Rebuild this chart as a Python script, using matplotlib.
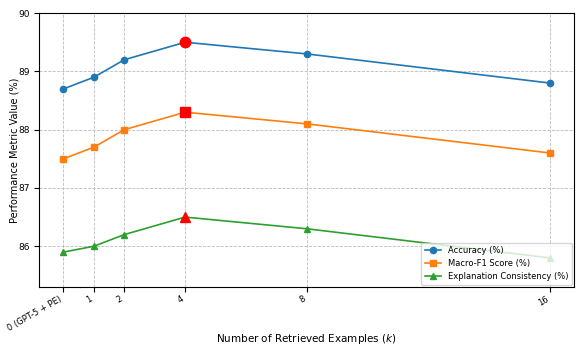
import matplotlib.pyplot as plt

k = [0, 1, 2, 4, 8, 16]
k_labels = ["0 (GPT-5 + PE)", "1", "2", "4", "8", "16"]
accuracy = [88.7, 88.9, 89.2, 89.5, 89.3, 88.8]
macro_f1 = [87.5, 87.7, 88.0, 88.3, 88.1, 87.6]
consistency = [85.9, 86.0, 86.2, 86.5, 86.3, 85.8]
best_idx = 3

fig, ax = plt.subplots(figsize=(5.76, 3.45), dpi=100)
fig.subplots_adjust(left=0.068, right=0.997, top=0.962, bottom=0.168)

series = [
    (accuracy, "o", "Accuracy (%)", "#1f77b4"),
    (macro_f1, "s", "Macro-F1 Score (%)", "#ff7f0e"),
    (consistency, "^", "Explanation Consistency (%)", "#2ca02c"),
]
for vals, m, lab, c in series:
    ax.plot(k, vals, marker=m, color=c, label=lab, linewidth=1.2, markersize=4.5)
    # mark the best point
    ax.plot(k[best_idx], vals[best_idx], marker=m, color="red", markersize=7.5, linestyle="none")

ax.set_xticks(k)
ax.set_xticklabels(k_labels, rotation=30, ha="right", fontsize=6)
ax.tick_params(axis="x", pad=2)
ax.tick_params(axis="y", labelsize=6.5)
ax.set_ylim(85.3, 90)
ax.set_yticks([86, 87, 88, 89, 90])
ax.set_xlabel("Number of Retrieved Examples ($k$)", fontsize=7.5)
ax.xaxis.set_label_coords(0.5, -0.165)
ax.set_ylabel("Performance Metric Value (%)", fontsize=7)
ax.yaxis.set_label_coords(-0.037, 0.5)
ax.grid(True, linestyle="--", color="#bbbbbb", linewidth=0.6)
ax.legend(loc="lower right", fontsize=6, borderaxespad=0.3)

plt.savefig("out.png", dpi=100)
